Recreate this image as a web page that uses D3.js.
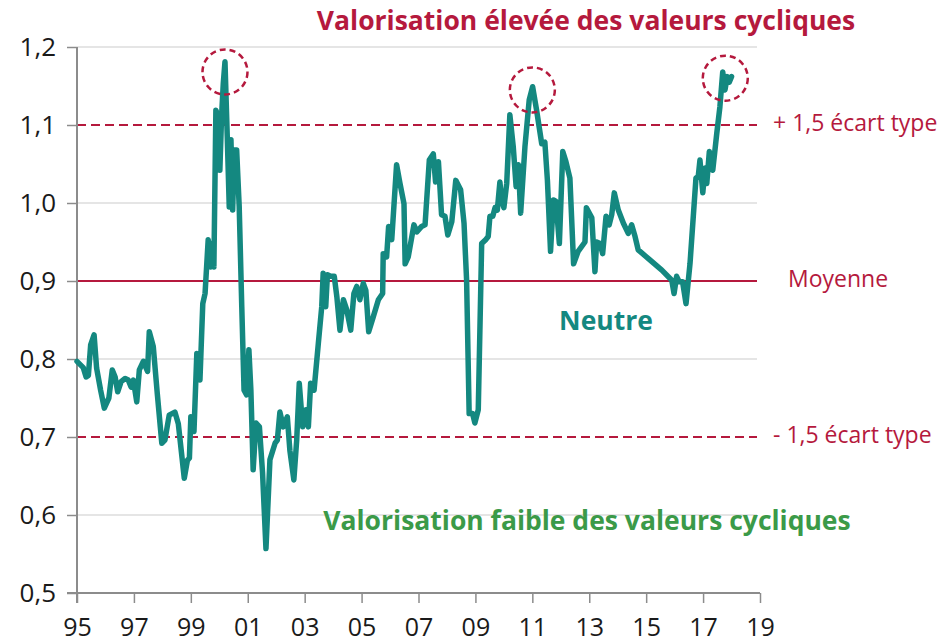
<!DOCTYPE html>
<html>
<head>
<meta charset="utf-8">
<script src="https://cdn.jsdelivr.net/npm/d3@7"></script>
<style>
  html, body { margin: 0; padding: 0; background: #fff; }
  svg { display: block; }
  text { font-family: "Open Sans", Lato, sans-serif; }
</style>
</head>
<body>
<svg id="chart" width="942" height="644"></svg>
<script>
// Valuation ratio of cyclical stocks, 1995-2018 (decimal year, ratio)
const years = [
  1995.00, 1995.22, 1995.32, 1995.40, 1995.48, 1995.60, 1995.69, 1995.83, 1995.96, 1996.12,
  1996.24, 1996.34, 1996.43, 1996.55, 1996.69, 1996.80, 1996.90, 1996.98, 1997.10, 1997.19,
  1997.33, 1997.48, 1997.54, 1997.68, 1997.82, 1997.98, 1998.09, 1998.24, 1998.44, 1998.56,
  1998.77, 1998.88, 1998.95, 1999.00, 1999.11, 1999.21, 1999.32, 1999.42, 1999.50, 1999.61,
  1999.70, 1999.77, 1999.81, 1999.88, 1999.97, 2000.02, 2000.08, 2000.14, 2000.20, 2000.28,
  2000.35, 2000.41, 2000.47, 2000.53, 2000.61, 2000.70, 2000.79, 2000.87, 2000.96, 2001.04,
  2001.11, 2001.19, 2001.29, 2001.41, 2001.52, 2001.64, 2001.78, 2001.96, 2002.04, 2002.13,
  2002.25, 2002.39, 2002.48, 2002.62, 2002.72, 2002.81, 2002.93, 2003.05, 2003.13, 2003.21,
  2003.33, 2003.48, 2003.60, 2003.65, 2003.74, 2003.80, 2003.91, 2004.04, 2004.13, 2004.24,
  2004.36, 2004.48, 2004.62, 2004.73, 2004.83, 2004.94, 2005.06, 2005.15, 2005.25, 2005.41,
  2005.59, 2005.74, 2005.76, 2005.88, 2005.95, 2006.06, 2006.23, 2006.35, 2006.49, 2006.53,
  2006.64, 2006.84, 2006.94, 2007.11, 2007.23, 2007.38, 2007.52, 2007.60, 2007.70, 2007.81,
  2007.93, 2008.03, 2008.17, 2008.31, 2008.48, 2008.60, 2008.69, 2008.78, 2008.90, 2008.98,
  2009.10, 2009.22, 2009.36, 2009.45, 2009.51, 2009.61, 2009.69, 2009.77, 2009.86, 2009.92,
  2010.00, 2010.10, 2010.21, 2010.33, 2010.43, 2010.51, 2010.59, 2010.74, 2010.89, 2011.01,
  2011.15, 2011.33, 2011.44, 2011.53, 2011.64, 2011.74, 2011.83, 2011.95, 2012.07, 2012.18,
  2012.32, 2012.45, 2012.61, 2012.85, 2012.90, 2013.09, 2013.20, 2013.26, 2013.38, 2013.47,
  2013.59, 2013.70, 2013.79, 2013.88, 2014.02, 2014.20, 2014.37, 2014.49, 2014.61, 2014.72,
  2015.13, 2015.55, 2015.90, 2015.98, 2016.07, 2016.16, 2016.28, 2016.40, 2016.54, 2016.75,
  2016.83, 2016.89, 2016.99, 2017.07, 2017.13, 2017.22, 2017.34, 2017.48, 2017.59, 2017.69,
  2017.77, 2017.85, 2017.92, 2018.00
];
const ratio = [
  0.797, 0.789, 0.777, 0.779, 0.818, 0.831, 0.788, 0.760, 0.737, 0.750,
  0.786, 0.777, 0.758, 0.771, 0.775, 0.773, 0.764, 0.773, 0.745, 0.786,
  0.797, 0.784, 0.835, 0.816, 0.756, 0.692, 0.696, 0.728, 0.732, 0.717,
  0.647, 0.670, 0.673, 0.726, 0.707, 0.807, 0.773, 0.871, 0.884, 0.953,
  0.918, 0.949, 0.918, 1.119, 1.111, 1.042, 1.111, 1.153, 1.181, 1.085,
  0.995, 1.081, 0.991, 1.068, 1.068, 0.995, 0.867, 0.760, 0.754, 0.812,
  0.760, 0.658, 0.718, 0.713, 0.654, 0.557, 0.671, 0.692, 0.696, 0.732,
  0.713, 0.726, 0.683, 0.645, 0.696, 0.769, 0.713, 0.735, 0.713, 0.769,
  0.760, 0.820, 0.867, 0.910, 0.867, 0.908, 0.906, 0.906, 0.880, 0.837,
  0.876, 0.863, 0.837, 0.884, 0.893, 0.876, 0.897, 0.888, 0.835, 0.854,
  0.876, 0.884, 0.935, 0.931, 0.970, 0.953, 1.049, 1.025, 0.999, 0.922,
  0.931, 0.972, 0.963, 0.970, 0.972, 1.055, 1.063, 1.027, 1.053, 0.985,
  0.983, 0.959, 0.976, 1.029, 1.017, 0.974, 0.901, 0.730, 0.730, 0.718,
  0.735, 0.948, 0.953, 0.957, 0.983, 0.983, 0.994, 0.991, 1.027, 1.004,
  0.994, 1.025, 1.113, 1.072, 1.021, 1.049, 0.987, 1.072, 1.132, 1.149,
  1.119, 1.076, 1.078, 1.029, 0.938, 1.004, 1.002, 0.948, 1.066, 1.053,
  1.032, 0.922, 0.938, 0.950, 0.994, 0.981, 0.912, 0.950, 0.948, 0.935,
  0.983, 0.972, 0.985, 1.013, 0.991, 0.974, 0.961, 0.972, 0.957, 0.940,
  0.927, 0.914, 0.901, 0.884, 0.906, 0.899, 0.899, 0.871, 0.922, 1.032,
  1.034, 1.055, 1.013, 1.045, 1.025, 1.066, 1.042, 1.089, 1.123, 1.168,
  1.145, 1.162, 1.155, 1.162
];

// Axis ticks
const xTickYears = [1995, 1997, 1999, 2001, 2003, 2005, 2007, 2009, 2011, 2013, 2015, 2017, 2019];
const yTickValues = [0.5, 0.6, 0.7, 0.8, 0.9, 1.0, 1.1, 1.2];
const gridValues = [0.6, 0.8, 1.0, 1.2];

// Reference levels
const bandLevels = [1.1, 0.9, 0.7];
const bandLabels = ["+ 1,5 écart type", "Moyenne", "- 1,5 écart type"];
const mean = 0.9;

// Highlighted peaks (year, ratio)
const peakYears = [2000.2, 2011.0, 2017.78];
const peakValues = [1.168, 1.145, 1.16];

const titleHigh = "Valorisation élevée des valeurs cycliques";
const titleLow = "Valorisation faible des valeurs cycliques";
const titleMid = "Neutre";

const RED = "#b5193d";
const TEAL = "#148880";
const GREEN = "#3b9a48";

const svg = d3.select("#chart");

const x = d3.scaleLinear().domain([1995, 2019]).range([77, 760]);
const y = d3.scaleLinear().domain([0.5, 1.2]).range([593, 47]);
const plotRight = 757;

// Light horizontal gridlines
svg.append("g")
  .selectAll("line")
  .data(gridValues)
  .join("line")
  .attr("x1", x(1995)).attr("x2", plotRight)
  .attr("y1", d => y(d)).attr("y2", d => y(d))
  .attr("stroke", "#dcdcdc").attr("stroke-width", 1.5);

// Band lines: dashed ±1.5 std, solid mean
svg.append("g")
  .selectAll("line")
  .data(bandLevels)
  .join("line")
  .attr("x1", x(1995)).attr("x2", plotRight)
  .attr("y1", d => y(d)).attr("y2", d => y(d))
  .attr("stroke", RED)
  .attr("stroke-width", d => d === mean ? 2.2 : 2)
  .attr("stroke-dasharray", d => d === mean ? null : "9,5");

// Y axis
const yAxis = svg.append("g")
  .attr("transform", `translate(${x(1995)},0)`)
  .call(d3.axisLeft(y)
    .tickValues(yTickValues)
    .tickSize(10)
    .tickPadding(11)
    .tickFormat(d => d3.format(".1f")(d).replace(".", ",")));
yAxis.select(".domain").attr("stroke", "#8c8c8c").attr("stroke-width", 2)
  .attr("d", `M0,${y(1.2)}V${y(0.5) + 10}`);
yAxis.selectAll(".tick line").attr("stroke", "#8c8c8c").attr("stroke-width", 1.5);
yAxis.selectAll(".tick text")
  .attr("font-size", 26).attr("fill", "#1a1a1a")
  .style("font-family", "'Open Sans', sans-serif");

// X axis
const xAxis = svg.append("g")
  .attr("transform", `translate(0,${y(0.5)})`)
  .call(d3.axisBottom(x)
    .tickValues(xTickYears)
    .tickSize(10)
    .tickPadding(15)
    .tickFormat(d => String(d % 100).padStart(2, "0")));
xAxis.select(".domain").attr("stroke", "#8c8c8c").attr("stroke-width", 2)
  .attr("d", `M${x(1995) - 10},0H${x(2019)}`);
xAxis.selectAll(".tick line").attr("stroke", "#8c8c8c").attr("stroke-width", 1.5);
xAxis.selectAll(".tick text")
  .attr("font-size", 25).attr("fill", "#1a1a1a")
  .style("font-family", "'Open Sans', sans-serif");

// Ratio series
const series = years.map((yr, i) => [yr, ratio[i]]);
svg.append("path")
  .datum(series)
  .attr("fill", "none")
  .attr("stroke", TEAL)
  .attr("stroke-width", 5.5)
  .attr("stroke-linejoin", "round")
  .attr("stroke-linecap", "round")
  .attr("d", d3.line().x(d => x(d[0])).y(d => y(d[1])));

// Dashed circles around peaks
svg.append("g")
  .selectAll("circle")
  .data(peakYears.map((yr, i) => [yr, peakValues[i]]))
  .join("circle")
  .attr("cx", d => x(d[0])).attr("cy", d => y(d[1]))
  .attr("r", 22.5)
  .attr("fill", "none")
  .attr("stroke", RED).attr("stroke-width", 2.5)
  .attr("stroke-dasharray", "6,4");

// Band labels on the right
const bandLabelX = [773, 788, 773];
svg.append("g")
  .selectAll("text")
  .data(bandLevels)
  .join("text")
  .attr("x", (d, i) => bandLabelX[i])
  .attr("y", d => y(d) - 3)
  .attr("dominant-baseline", "central")
  .attr("font-size", 23)
  .attr("fill", RED)
  .text((d, i) => bandLabels[i]);

// Zone titles
svg.append("text")
  .attr("x", 586).attr("y", 20)
  .attr("text-anchor", "middle").attr("dominant-baseline", "central")
  .attr("font-size", 26.5).attr("font-weight", "bold").attr("fill", RED)
  .text(titleHigh);

svg.append("text")
  .attr("x", 606).attr("y", 320)
  .attr("text-anchor", "middle").attr("dominant-baseline", "central")
  .attr("font-size", 26.5).attr("font-weight", "bold").attr("fill", TEAL)
  .text(titleMid);

svg.append("text")
  .attr("x", 587).attr("y", 520)
  .attr("text-anchor", "middle").attr("dominant-baseline", "central")
  .attr("font-size", 26.5).attr("font-weight", "bold").attr("fill", GREEN)
  .text(titleLow);
</script>
</body>
</html>
